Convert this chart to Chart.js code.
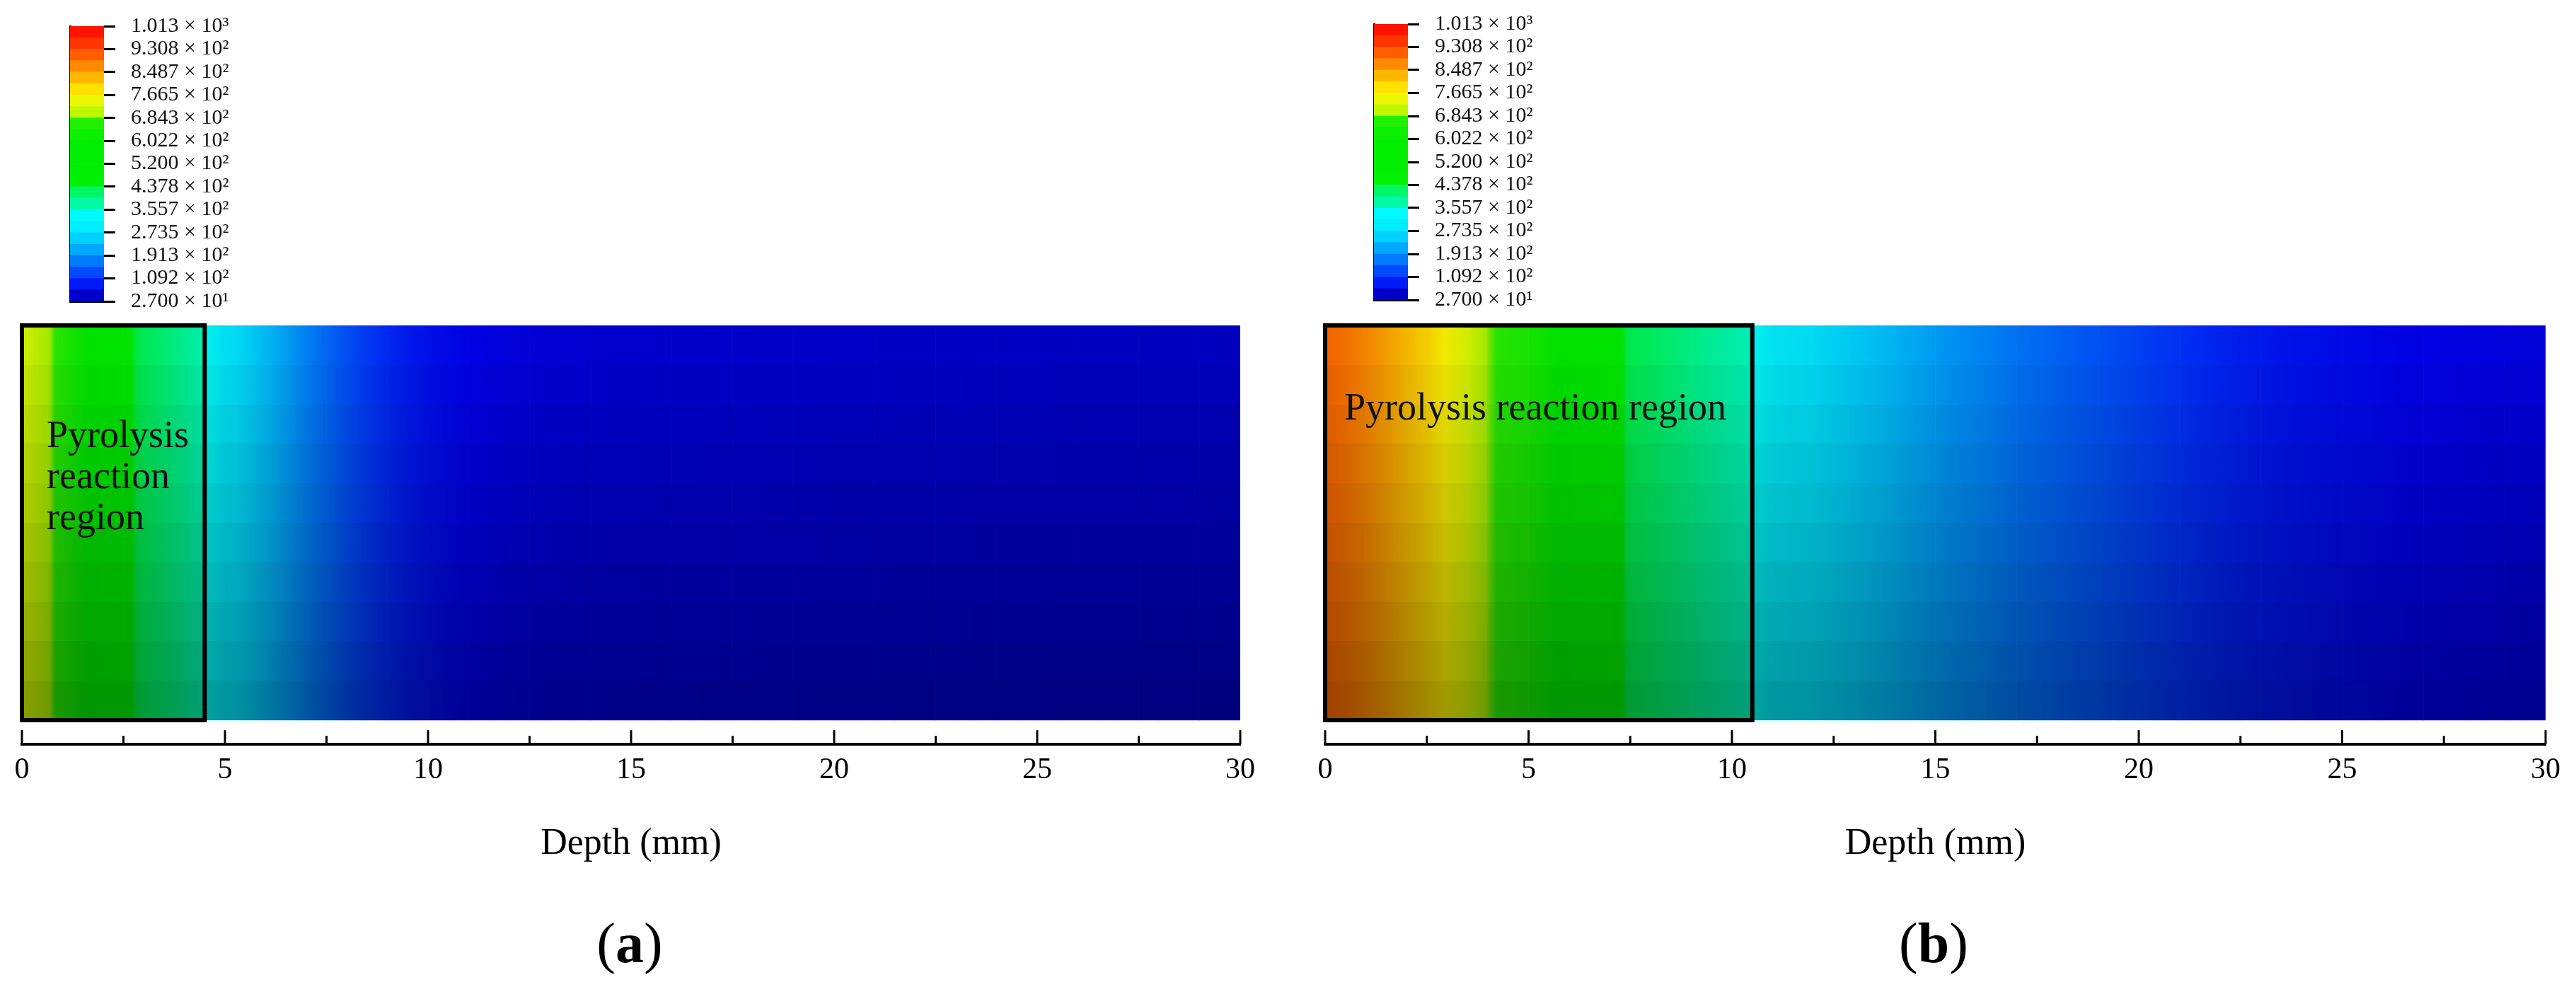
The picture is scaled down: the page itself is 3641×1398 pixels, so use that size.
<!DOCTYPE html>
<html>
<head>
<meta charset="utf-8">
<script src="https://cdn.jsdelivr.net/npm/chart.js@4.4.1/dist/chart.umd.min.js"></script>
<style>
  body { margin: 0; background: #fff; width: 3641px; height: 1398px; position: relative; overflow: hidden; font-family: 'Liberation Serif', 'Times New Roman', serif; }
  canvas { position: absolute; }
  .caption { position: absolute; font-size: 80px; line-height: 1; transform: translateX(-50%); color: #000; }
</style>
</head>
<body>
<canvas id="heatA" width="1820" height="850" style="left:0;top:400px"></canvas>
<canvas id="heatB" width="1799" height="850" style="left:1842px;top:400px"></canvas>
<canvas id="barA" width="268" height="469" style="left:79px;top:-3px"></canvas>
<canvas id="barB" width="268" height="470" style="left:1922px;top:-6px"></canvas>
<div class="caption" style="left:890px;top:1293px">(<b>a</b>)</div>
<div class="caption" style="left:2733px;top:1293px">(<b>b</b>)</div>

<script>
// depth grid (mm), one sample every 0.5 mm
const depthMm = [
  0, 0.5, 1, 1.5, 2, 2.5, 3, 3.5, 4, 4.5, 5, 5.5, 6, 6.5, 7, 7.5, 8, 8.5, 9, 9.5,
  10, 10.5, 11, 11.5, 12, 12.5, 13, 13.5, 14, 14.5, 15, 15.5, 16, 16.5, 17, 17.5, 18, 18.5, 19, 19.5,
  20, 20.5, 21, 21.5, 22, 22.5, 23, 23.5, 24, 24.5, 25, 25.5, 26, 26.5, 27, 27.5, 28, 28.5, 29, 29.5, 30
];

// temperature (panel a, panel b)
const tempA = [
  730, 700, 668, 615, 540, 458, 425, 405, 385, 358, 285, 262, 236, 210, 182, 157, 135, 117, 102, 90,
  81, 74, 69, 65, 62, 60, 58, 57, 56, 55, 55, 54, 54, 54, 53, 53, 53, 52, 52, 52,
  51, 51, 51, 50, 50, 50, 50, 49, 49, 49, 49, 48, 48, 48, 48, 47, 47, 47, 47, 46, 46
];
const tempB = [
  900, 888, 868, 845, 820, 795, 762, 728, 686, 672, 650, 620, 575, 520, 468, 430, 418, 405, 393, 380,
  368, 356, 300, 285, 272, 262, 252, 242, 230, 218, 207, 197, 188, 178, 168, 160, 152, 145, 138, 131,
  124, 117, 110, 104, 98, 93, 89, 85, 82, 79, 76, 74, 72, 70, 68, 67, 65, 64, 63, 62, 61
];

// end of the boxed pyrolysis region (mm)
const regionEnd = [4.5, 10.5];

const xMajorTicks = [0, 5, 10, 15, 20, 25, 30];
const xMinorTicks = [2.5, 7.5, 12.5, 17.5, 22.5, 27.5];

// legend levels and their labels
const cbLevels = [27, 109.2, 191.3, 273.5, 355.7, 437.8, 520.0, 602.2, 684.3, 766.5, 848.7, 930.8, 1013];
const cbLabels = [
  '2.700 × 10¹', '1.092 × 10²', '1.913 × 10²', '2.735 × 10²', '3.557 × 10²', '4.378 × 10²', '5.200 × 10²',
  '6.022 × 10²', '6.843 × 10²', '7.665 × 10²', '8.487 × 10²', '9.308 × 10²', '1.013 × 10³'
];

// rainbow colour map
const cmapValues = [27, 68, 109, 150, 191, 232, 273, 350, 358, 437, 445, 602, 680, 688, 725, 766, 808, 849, 890, 931, 972, 1013];
const cmapColors = [
  [0, 0, 165], [0, 0, 240], [0, 50, 255], [0, 100, 255], [0, 145, 255], [0, 190, 255], [0, 230, 255],
  [0, 255, 250], [0, 250, 190], [0, 245, 70], [0, 240, 0], [0, 238, 0], [40, 240, 0], [170, 245, 0],
  [215, 250, 0], [255, 245, 0], [255, 205, 0], [255, 160, 0], [255, 115, 0], [255, 70, 0], [255, 35, 0], [255, 0, 0]
];

Chart.defaults.font.family = "'Liberation Serif', 'Times New Roman', serif";
Chart.defaults.color = '#000';

function colormap(v) {
  if (v <= cmapValues[0]) return 'rgb(' + cmapColors[0].join(',') + ')';
  for (let i = 1; i < cmapValues.length; i++) {
    if (v <= cmapValues[i]) {
      const t = (v - cmapValues[i - 1]) / (cmapValues[i] - cmapValues[i - 1]);
      const a = cmapColors[i - 1], b = cmapColors[i];
      return 'rgb(' + [0, 1, 2].map(k => Math.round(a[k] + (b[k] - a[k]) * t)).join(',') + ')';
    }
  }
  return 'rgb(' + cmapColors[cmapColors.length - 1].join(',') + ')';
}

function segmentFill(ctx, temps) {
  const chart = ctx.chart;
  const xs = chart.scales.x;
  if (ctx.type !== 'data' || !xs) return '#0000c0';
  const i = ctx.dataIndex;
  const x0 = xs.getPixelForValue(depthMm[i]);
  const x1 = xs.getPixelForValue(depthMm[i + 1]);
  // the scale has no pixel range yet on the first (reset) pass
  if (!isFinite(x0) || !isFinite(x1) || x1 === x0) return colormap(temps[i]);
  const g = chart.ctx.createLinearGradient(x0, 0, x1, 0);
  const n = 12;
  for (let k = 0; k <= n; k++) {
    const t = k / n;
    g.addColorStop(t, colormap(temps[i] + (temps[i + 1] - temps[i]) * t));
  }
  return g;
}

// shading, region box, label and inward tick marks
const heatmapDecor = {
  id: 'heatmapDecor',
  afterDatasetsDraw(chart, args, opts) {
    const { ctx } = chart;
    const xs = chart.scales.x, ys = chart.scales.y;
    const left = xs.getPixelForValue(0), right = xs.getPixelForValue(30);
    const top = ys.getPixelForValue(1), bottom = ys.getPixelForValue(0);
    ctx.save();
    const bands = 10;
    for (let k = 0; k < bands; k++) {
      const y0 = Math.round(top + (bottom - top) * k / bands);
      const y1 = Math.round(top + (bottom - top) * (k + 1) / bands);
      ctx.fillStyle = 'rgba(0,0,0,' + (0.05 + 0.035 * k).toFixed(3) + ')';
      ctx.fillRect(left, y0, right - left, y1 - y0);
    }
    const boxRight = xs.getPixelForValue(opts.regionEnd);
    ctx.strokeStyle = '#000';
    ctx.lineWidth = 6;
    ctx.strokeRect(left, top, boxRight - left, bottom - top);

    ctx.fillStyle = '#111';
    ctx.font = "54px 'Liberation Serif'";
    ctx.textBaseline = 'alphabetic';
    opts.lines.forEach((line, i) => {
      ctx.fillText(line, left + opts.textDx, top + opts.baselines[i]);
    });
    ctx.restore();
  },
  afterDraw(chart) {
    const { ctx } = chart;
    const xs = chart.scales.x;
    const axisY = chart.chartArea.bottom;
    ctx.save();
    ctx.strokeStyle = '#000';
    ctx.lineWidth = 3;
    xs.ticks.forEach(t => {
      const px = xs.getPixelForValue(t.value);
      const len = xMajorTicks.includes(t.value) ? 20 : 12;
      ctx.beginPath();
      ctx.moveTo(px, axisY);
      ctx.lineTo(px, axisY - len);
      ctx.stroke();
    });
    ctx.restore();
  }
};

function makeHeatmap(canvasId, temps, end, lines, baselines, textDx, padRight) {
  const segments = [];
  for (let i = 0; i < depthMm.length - 1; i++) {
    segments.push({ x: (depthMm[i] + depthMm[i + 1]) / 2, y: 1 });
  }
  const chart = new Chart(document.getElementById(canvasId), {
    type: 'bar',
    data: {
      datasets: [{
        data: segments,
        backgroundColor: ctx => segmentFill(ctx, temps),
        borderWidth: 0,
        barPercentage: 1,
        categoryPercentage: 1
      }]
    },
    options: {
      responsive: false,
      animation: false,
      events: [],
      layout: { padding: { left: 31, right: padRight, top: 60, bottom: 25 } },
      plugins: {
        legend: { display: false },
        tooltip: { enabled: false },
        heatmapDecor: { regionEnd: end, lines: lines, baselines: baselines, textDx: textDx }
      },
      scales: {
        x: {
          type: 'linear',
          offset: false,
          min: 0,
          max: 30,
          afterBuildTicks: scale => {
            scale.ticks = xMajorTicks.concat(xMinorTicks).sort((a, b) => a - b).map(v => ({ value: v }));
          },
          ticks: {
            autoSkip: false,
            maxRotation: 0,
            padding: 12,
            font: { size: 42 },
            callback: value => (xMajorTicks.includes(value) ? String(value) : '')
          },
          grid: { display: false, drawTicks: false, offset: false },
          border: { display: true, color: '#000', width: 4 },
          title: {
            display: true,
            text: 'Depth (mm)',
            font: { size: 52 },
            padding: { top: 36, bottom: 0 }
          }
        },
        y: { min: -0.0614, max: 1, display: false }
      }
    },
    plugins: [heatmapDecor]
  });
  chart.update();
  return chart;
}

function makeColorbar(canvasId) {
  const edges = [];
  cbLevels.forEach((v, i) => {
    edges.push(v);
    if (i < cbLevels.length - 1) edges.push((v + cbLevels[i + 1]) / 2);
  });
  const datasets = [];
  for (let i = 0; i < edges.length - 1; i++) {
    datasets.push({
      data: [[edges[i], edges[i + 1]]],
      backgroundColor: colormap((edges[i] + edges[i + 1]) / 2),
      borderWidth: 0,
      grouped: false,
      barPercentage: 1,
      categoryPercentage: 1
    });
  }
  return new Chart(document.getElementById(canvasId), {
    type: 'bar',
    data: { labels: [''], datasets: datasets },
    options: {
      responsive: false,
      animation: false,
      events: [],
      layout: { padding: { left: 20, right: 0, top: 0, bottom: 0 } },
      plugins: { legend: { display: false }, tooltip: { enabled: false } },
      scales: {
        x: {
          ticks: { display: false },
          grid: { display: false, drawTicks: false },
          border: { display: true, color: '#000', width: 3 }
        },
        y: {
          position: 'right',
          min: 27,
          max: 1013,
          afterBuildTicks: scale => { scale.ticks = cbLevels.map(v => ({ value: v })); },
          afterFit: scale => { scale.width = 200; },
          ticks: {
            autoSkip: false,
            padding: 22,
            color: '#111',
            font: { size: 30 },
            callback: (value, index) => cbLabels[index]
          },
          grid: { drawOnChartArea: false, drawTicks: true, tickLength: 16, tickColor: '#000', tickWidth: 3 },
          border: { display: false }
        },
        yL: {
          position: 'left',
          min: 27,
          max: 1013,
          ticks: { display: false },
          grid: { display: false, drawTicks: false },
          border: { display: true, color: '#000', width: 3 }
        }
      }
    }
  });
}

makeHeatmap('heatA', tempA, regionEnd[0], ['Pyrolysis', 'reaction', 'region'], [172, 230, 288], 35, 67);
makeHeatmap('heatB', tempB, regionEnd[1], ['Pyrolysis reaction region'], [133], 27, 43);
makeColorbar('barA');
makeColorbar('barB');
</script>
</body>
</html>
